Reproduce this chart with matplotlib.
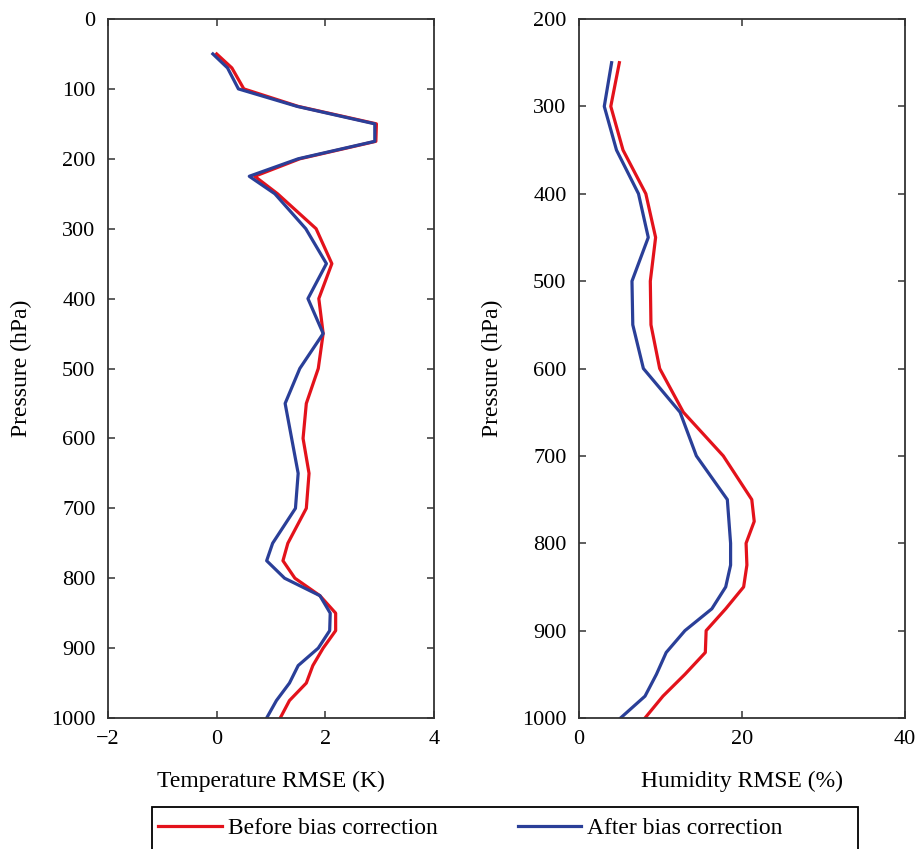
import matplotlib.pyplot as plt
from matplotlib.patches import Rectangle

plt.rcParams['font.family'] = ['Liberation Serif', 'DejaVu Serif']
plt.rcParams['axes.unicode_minus'] = True

# pressure levels (hPa)
t_levels = [50, 70, 100, 125, 150, 175, 200, 225, 250, 300, 350, 400, 450, 500,
            550, 600, 650, 700, 750, 775, 800, 825, 850, 875, 900, 925, 950, 975, 1000]
t_before = [0.0, 0.28, 0.5, 1.5, 2.94, 2.93, 1.53, 0.7, 1.12, 1.83, 2.12, 1.88, 1.96, 1.87,
            1.65, 1.59, 1.70, 1.65, 1.31, 1.22, 1.44, 1.90, 2.19, 2.19, 1.96, 1.77, 1.65, 1.34, 1.17]
t_after = [-0.07, 0.2, 0.4, 1.48, 2.91, 2.91, 1.5, 0.6, 1.07, 1.64, 2.02, 1.68, 1.96, 1.53,
           1.26, 1.38, 1.50, 1.45, 1.03, 0.92, 1.25, 1.90, 2.09, 2.08, 1.87, 1.50, 1.34, 1.10, 0.92]

q_levels = [250, 300, 350, 400, 450, 500, 550, 600, 650, 700, 750, 775, 800, 825,
            850, 875, 900, 925, 950, 975, 1000]
q_before = [4.95, 3.9, 5.4, 8.2, 9.4, 8.75, 8.83, 9.9, 12.8, 17.7, 21.2, 21.5, 20.5, 20.6,
            20.2, 18.0, 15.6, 15.5, 13.0, 10.3, 8.1]
q_after = [4.0, 3.1, 4.6, 7.3, 8.5, 6.5, 6.6, 7.9, 12.4, 14.4, 18.2, 18.4, 18.6, 18.6,
           18.0, 16.3, 13.0, 10.7, 9.5, 8.1, 5.1]

labels = ["Before bias correction", "After bias correction"]
red = "#e3121b"
blue = "#2a3f98"

fig = plt.figure(figsize=(9.21, 8.49), dpi=100)
ax1 = fig.add_axes([108 / 921, 1 - 718 / 849, 326 / 921, 699 / 849])
ax2 = fig.add_axes([579 / 921, 1 - 718 / 849, 326 / 921, 699 / 849])

ax1.plot(t_before, t_levels, color=red, lw=2.3, label=labels[0])
ax1.plot(t_after, t_levels, color=blue, lw=2.3, label=labels[1])
ax1.set_xlim(-2, 4)
ax1.set_ylim(1000, 0)
ax1.set_xticks([-2, 0, 2, 4])
ax1.set_yticks(range(0, 1001, 100))
ax1.set_xlabel("Temperature RMSE (K)", fontsize=17, labelpad=15)
ax1.set_ylabel("Pressure (hPa)", fontsize=17, labelpad=14)

ax2.plot(q_before, q_levels, color=red, lw=2.3)
ax2.plot(q_after, q_levels, color=blue, lw=2.3)
ax2.set_xlim(0, 40)
ax2.set_ylim(1000, 200)
ax2.set_xticks([0, 20, 40])
ax2.set_yticks(range(200, 1001, 100))
ax2.set_xlabel("Humidity RMSE (%)", fontsize=17, labelpad=15)
ax2.set_ylabel("Pressure (hPa)", fontsize=17, labelpad=14)

for ax in (ax1, ax2):
    ax.tick_params(direction="in", top=True, right=True, length=5, width=1.1,
                   labelsize=16, pad=9, color="#333333")
    for s in ax.spines.values():
        s.set_color("#333333")
        s.set_linewidth(1.3)

# legend box that runs off the bottom edge
fig.patches.append(Rectangle((152 / 921, -0.05), 706 / 921, 0.05 + 1 - 807 / 849,
                             transform=fig.transFigure, fill=False,
                             edgecolor="black", lw=1.3, clip_on=False))
fig.legend(labels=labels, handles=ax1.get_lines(), loc="center left",
           bbox_to_anchor=(158 / 921, 1 - 828 / 849), ncol=2, frameon=False,
           fontsize=17, borderpad=0, borderaxespad=0, handlelength=2.7,
           handletextpad=0.25, columnspacing=3.4)

fig.savefig("out.png", dpi=100)
